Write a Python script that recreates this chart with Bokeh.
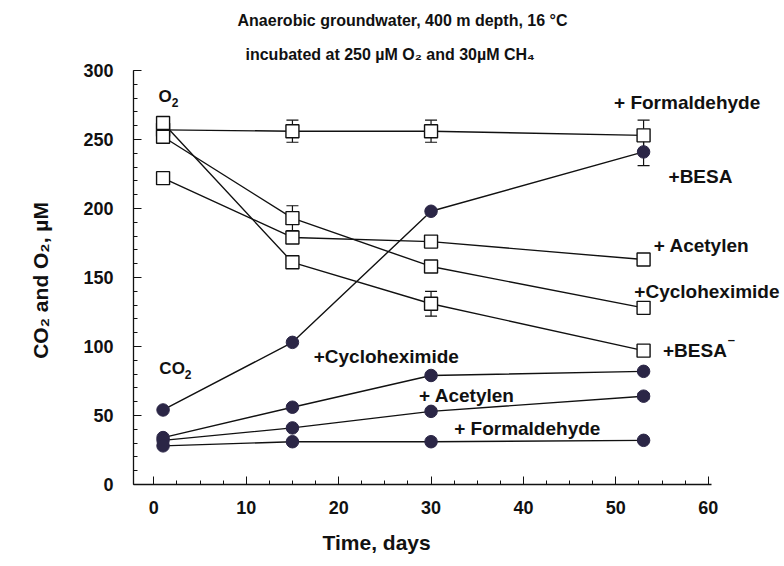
from bokeh.plotting import figure
from bokeh.models import (Range1d, SingleIntervalTicker, Whisker, ColumnDataSource,
                          Label, TeeHead, Title)
from bokeh.embed import file_html
from bokeh.resources import INLINE

# Sampling days
days = [1, 15, 30, 53]

# O2 concentration (uM), open squares
o2_formaldehyde = [257, 256, 256, 253]
o2_besa = [262, 161, 131, 97]
o2_cycloheximide = [252, 193, 158, 128]
o2_acetylen = [222, 179, 176, 163]

# O2 standard deviations
o2_formaldehyde_err = [3, 8, 8, 11]
o2_besa_err = [3, 4, 9, 0]
o2_cycloheximide_err = [3, 9, 0, 0]
o2_acetylen_err = [0, 0, 0, 0]

# CO2 concentration (uM), filled circles
co2_besa = [54, 103, 198, 241]
co2_cycloheximide = [34, 56, 79, 82]
co2_acetylen = [32, 41, 53, 64]
co2_formaldehyde = [28, 31, 31, 32]

# CO2 standard deviations
co2_besa_err = [0, 0, 0, 10]
co2_acetylen_err = [0, 0, 0, 2]

FONT = "Liberation Sans"
INK = "#111111"
DOT = "#2b2646"

# the frame runs to the right edge so the end-of-line labels stay visible;
# the x axis itself is bounded to 0..60
p = figure(width=784, height=566,
           x_range=Range1d(-2.2, 68.25), y_range=Range1d(0, 300),
           output_backend="svg", toolbar_location=None,
           min_border_left=133, min_border_right=0,
           min_border_top=70, min_border_bottom=80,
           background_fill_color="white", border_fill_color="white")
p.outline_line_color = None
p.xgrid.visible = False
p.ygrid.visible = False

p.xaxis.ticker = SingleIntervalTicker(interval=10, num_minor_ticks=4)
p.yaxis.ticker = SingleIntervalTicker(interval=50, num_minor_ticks=5)
p.xaxis.bounds = (-2.2, 60.3)
p.yaxis.bounds = (0, 300)
for ax in (p.xaxis[0], p.yaxis[0]):
    ax.axis_line_color = INK
    ax.axis_line_width = 1.3
    ax.major_tick_line_color = INK
    ax.minor_tick_line_color = INK
    ax.major_tick_in = 8
    ax.major_tick_out = 0
    ax.minor_tick_in = 4
    ax.minor_tick_out = 0
    ax.major_label_text_font = FONT
    ax.major_label_text_font_style = "bold"
    ax.major_label_text_font_size = "18px"
    ax.major_label_text_color = INK
    ax.axis_label_text_font = FONT
    ax.axis_label_text_font_style = "bold"
    ax.axis_label_text_font_size = "21px"
    ax.axis_label_text_color = INK

p.xaxis.major_label_standoff = 16
p.yaxis.major_label_standoff = 20
p.yaxis.axis_label = "CO\u2082 and O\u2082,  \u00b5M"
p.yaxis.axis_label_standoff = 28

# x axis title, placed below the tick labels
p.add_layout(Title(text="Time, days", align="left", offset=189,
                   text_font=FONT, text_font_style="bold",
                   text_font_size="21px", text_color=INK, standoff=25),
             "below")

# heading, two lines (the first one added sits closest to the frame)
p.add_layout(Title(text="incubated at 250 \u00b5M O\u2082 and 30\u00b5M CH\u2084",
                   align="left", offset=112, text_font=FONT,
                   text_font_style="bold", text_font_size="16px",
                   text_color=INK, standoff=15), "above")
p.add_layout(Title(text="Anaerobic groundwater, 400 m depth, 16 \u00b0C",
                   align="left", offset=104, text_font=FONT,
                   text_font_style="bold", text_font_size="16px",
                   text_color=INK, standoff=15), "above")


def add_errors(xs, ys, errs):
    rows = [(x, y, e) for x, y, e in zip(xs, ys, errs) if e > 0]
    if not rows:
        return
    src = ColumnDataSource(dict(x=[r[0] for r in rows],
                                upper=[r[1] + r[2] for r in rows],
                                lower=[r[1] - r[2] for r in rows]))
    w = Whisker(base="x", upper="upper", lower="lower", source=src,
                line_color=INK, line_width=1.2,
                upper_head=TeeHead(size=12, line_color=INK, line_width=1.2),
                lower_head=TeeHead(size=12, line_color=INK, line_width=1.2))
    p.add_layout(w)


o2_series = [
    (o2_formaldehyde, o2_formaldehyde_err),
    (o2_besa, o2_besa_err),
    (o2_cycloheximide, o2_cycloheximide_err),
    (o2_acetylen, o2_acetylen_err),
]
co2_series = [
    (co2_besa, co2_besa_err),
    (co2_cycloheximide, [0, 0, 0, 0]),
    (co2_acetylen, co2_acetylen_err),
    (co2_formaldehyde, [0, 0, 0, 0]),
]

for ys, errs in o2_series + co2_series:
    p.line(days, ys, line_color=INK, line_width=1.4)
    add_errors(days, ys, errs)

for ys, _ in co2_series:
    p.scatter(days, ys, marker="circle", size=12.5,
              fill_color=DOT, line_color=DOT, line_width=1)

for ys, _ in o2_series:
    p.scatter(days, ys, marker="square", size=13,
              fill_color="white", line_color=INK, line_width=1.4)


def note(x, y, text, size="19px", align="left", baseline="middle"):
    p.add_layout(Label(x=x, y=y, text=text, text_font=FONT,
                       text_font_style="bold", text_font_size=size,
                       text_color=INK, text_align=align,
                       text_baseline=baseline))


# group labels with a lowered, smaller "2"
note(0.5, 280.8, "O", size="17px")
note(1.95, 276.5, "2", size="12px")
note(0.6, 84.0, "CO", size="17px")
note(3.35, 79.7, "2", size="12px")

# CO2 treatment labels
note(17.3, 92.6, "+Cycloheximide")
note(28.7, 64.5, "+ Acetylen")
note(32.5, 40.7, "+ Formaldehyde")

# O2 treatment labels
note(49.8, 276.5, "+ Formaldehyde")
note(55.7, 223.0, "+BESA")
note(54.1, 173.4, "+ Acetylen")
note(52.0, 139.5, "+Cycloheximide")
note(55.1, 97.0, "+BESA")
note(62.1, 105.0, "\u2013", size="13px")

open("out.html", "w").write(file_html(p, INLINE))
